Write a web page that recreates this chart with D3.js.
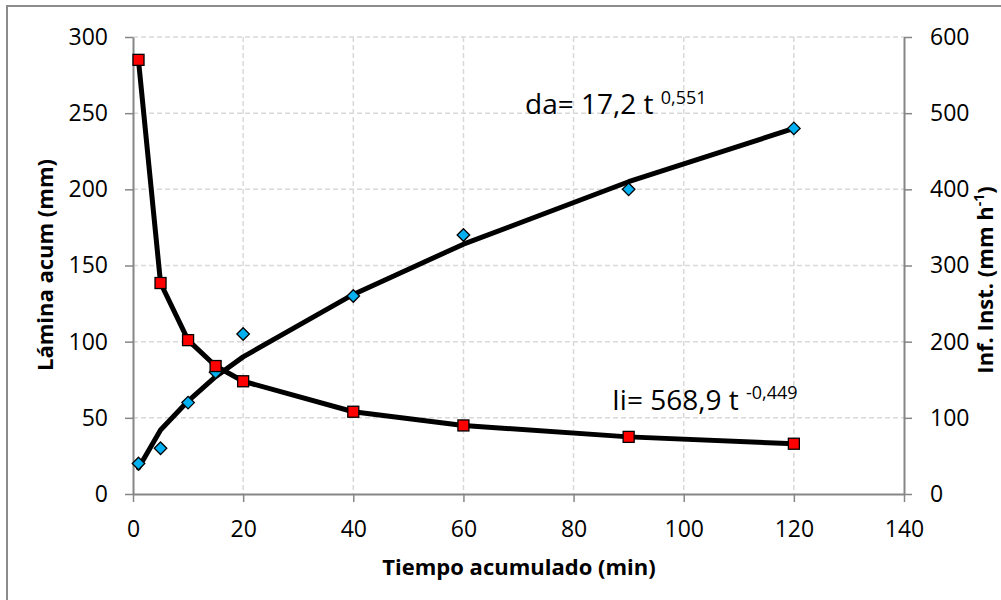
<!DOCTYPE html>
<html>
<head>
<meta charset="utf-8">
<script src="https://cdn.jsdelivr.net/npm/d3@7"></script>
<style>
  html, body { margin: 0; padding: 0; background: #fff; }
  svg { display: block; font-family: "Open Sans", "Noto Sans", sans-serif; }
</style>
</head>
<body>
<svg id="chart" width="1001" height="600"></svg>
<script>
// ---- data ----
const times = [1, 5, 10, 15, 20, 40, 60, 90, 120];
const daObserved = [20, 30, 60, 80, 105, 130, 170, 200, 240];      // Lámina acum (mm), left axis
const daFitted   = [17, 42, 61, 77, 90, 131, 164, 205, 240];       // da = 17,2 t^0,551
const iiObserved = [570, 277, 202, 168, 148, 108, 90, 75, 66];     // Inf. Inst. (mm h-1), right axis
const iiFitted   = [569, 277, 202, 168, 148, 108, 90, 75, 66];     // Ii = 568,9 t^-0,449
const xTicks = [0, 20, 40, 60, 80, 100, 120, 140];
const yLeftTicks = [0, 50, 100, 150, 200, 250, 300];
const yRightTicks = [0, 100, 200, 300, 400, 500, 600];

const svg = d3.select("#chart");
const L = 133, R = 904, T = 37, B = 494;

const x = d3.scaleLinear().domain([0, 140]).range([L, R]);
const yL = d3.scaleLinear().domain([0, 300]).range([B, T]);
const yR = d3.scaleLinear().domain([0, 600]).range([B, T]);

// outer border
svg.append("rect").attr("x", 7).attr("y", 6).attr("width", 1100).attr("height", 700)
  .attr("fill", "#fff").attr("stroke", "#8c8c8c").attr("stroke-width", 2);

// gridlines
const grid = svg.append("g").attr("stroke", "#d9d9d9").attr("stroke-width", 1.5)
  .attr("stroke-dasharray", "5,3");
grid.selectAll("line.h").data(yLeftTicks.filter(d => d > 0)).join("line")
  .attr("x1", L).attr("x2", R).attr("y1", d => yL(d)).attr("y2", d => yL(d));
grid.selectAll("line.v").data(xTicks.filter(d => d > 0 && d < 140)).join("line")
  .attr("y1", T).attr("y2", B).attr("x1", d => x(d)).attr("x2", d => x(d));

// axes
const axisColor = "#868686";
function styleAxis(g) {
  g.selectAll(".domain").attr("stroke", axisColor).attr("stroke-width", 2);
  g.selectAll(".tick line").attr("stroke", axisColor).attr("stroke-width", 1.5);
  g.selectAll(".tick text").attr("fill", "#000").style("font-size", "23px")
    .style("font-family", "'Open Sans', sans-serif");
}
const gx = svg.append("g").attr("transform", `translate(0,${B})`)
  .call(d3.axisBottom(x).tickValues(xTicks).tickSize(8).tickSizeOuter(0).tickPadding(19));
styleAxis(gx);
const gl = svg.append("g").attr("transform", `translate(${L},0)`)
  .call(d3.axisLeft(yL).tickValues(yLeftTicks).tickSize(8).tickSizeOuter(0).tickPadding(17));
styleAxis(gl);
const gr = svg.append("g").attr("transform", `translate(${R},0)`)
  .call(d3.axisRight(yR).tickValues(yRightTicks).tickSize(8).tickSizeOuter(0).tickPadding(18));
styleAxis(gr);

// lines
const lineDa = d3.line().x((d, i) => x(times[i])).y(d => yL(d));
const lineIi = d3.line().x((d, i) => x(times[i])).y(d => yR(d));

svg.append("path").datum(daFitted).attr("d", lineDa)
  .attr("fill", "none").attr("stroke", "#000").attr("stroke-width", 5)
  .attr("stroke-linejoin", "round").attr("stroke-linecap", "round");

svg.append("g").selectAll("path").data(daObserved).join("path")
  .attr("d", d3.symbol(d3.symbolDiamond2, 100))
  .attr("transform", (d, i) => `translate(${x(times[i])},${yL(d)})`)
  .attr("fill", "#00b0f0").attr("stroke", "#000").attr("stroke-width", 1.3);

svg.append("path").datum(iiFitted).attr("d", lineIi)
  .attr("fill", "none").attr("stroke", "#000").attr("stroke-width", 5)
  .attr("stroke-linejoin", "round").attr("stroke-linecap", "round");

svg.append("g").selectAll("rect").data(iiObserved).join("rect")
  .attr("x", (d, i) => x(times[i]) - 5.5).attr("y", d => yR(d) - 5.5)
  .attr("width", 11).attr("height", 11)
  .attr("fill", "#ff0000").attr("stroke", "#000").attr("stroke-width", 1.3);

// equation labels
const eq1 = svg.append("text").attr("x", 525).attr("y", 114)
  .style("font-size", "28px").attr("fill", "#000");
eq1.append("tspan").text("da= 17,2 t ");
eq1.append("tspan").attr("dy", -10).style("font-size", "18px").text("0,551");

const eq2 = svg.append("text").attr("x", 612).attr("y", 410)
  .style("font-size", "28px").attr("fill", "#000");
eq2.append("tspan").text("Ii= 568,9 t ");
eq2.append("tspan").attr("dy", -11).style("font-size", "18px").text("-0,449");

// axis titles
svg.append("text").attr("x", 519).attr("y", 575).attr("text-anchor", "middle")
  .style("font-size", "22px").style("font-weight", "bold").text("Tiempo acumulado (min)");

svg.append("text").attr("transform", "translate(53,265) rotate(-90)")
  .attr("text-anchor", "middle").style("font-size", "22px").style("font-weight", "bold")
  .text("Lámina acum (mm)");

const rt = svg.append("text").attr("transform", "translate(993,280) rotate(-90)")
  .attr("text-anchor", "middle").style("font-size", "22px").style("font-weight", "bold");
rt.append("tspan").text("Inf. Inst. (mm h");
rt.append("tspan").attr("dy", -9).style("font-size", "14px").text("-1");
rt.append("tspan").attr("dy", 9).text(")");
</script>
</body>
</html>
